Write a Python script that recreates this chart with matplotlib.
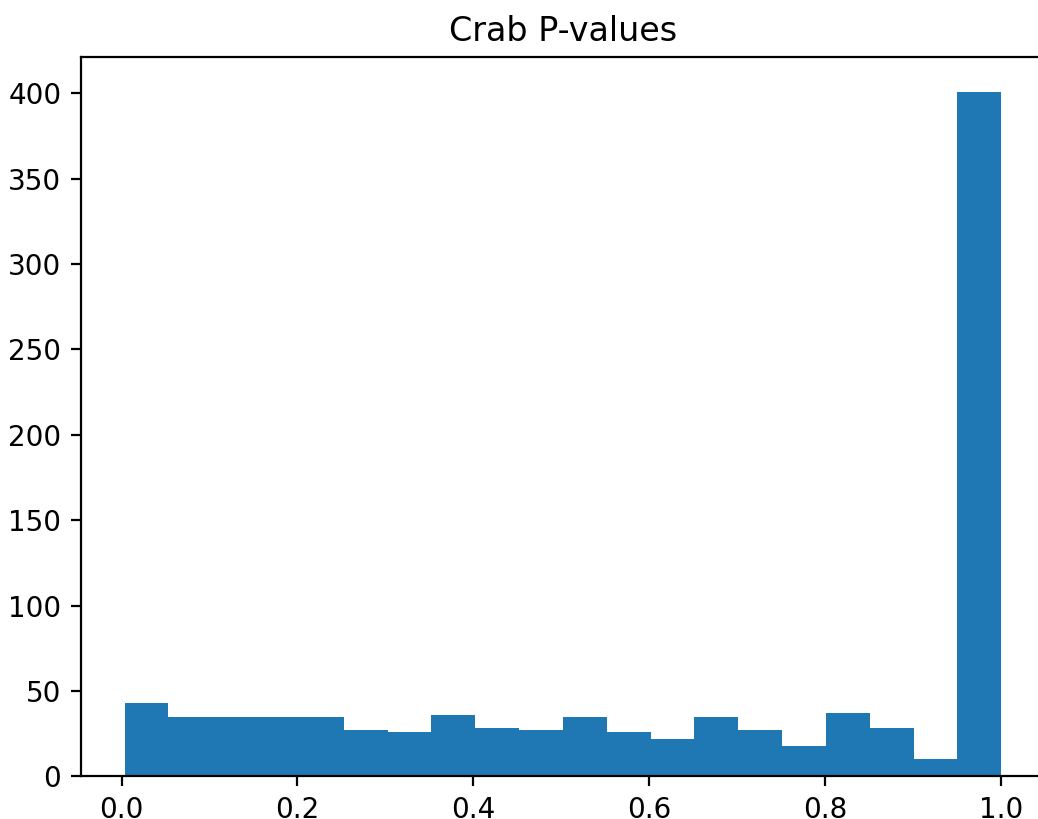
import numpy as np
import matplotlib
matplotlib.use("Agg")
import matplotlib.pyplot as plt

# Histogram of p-values: 20 equal-width bins between min and max p-value
p_min = 0.0034
p_max = 1.0
counts = [43, 35, 35, 35, 35, 27, 26, 36, 28, 27,
          35, 26, 22, 35, 27, 18, 37, 28, 10, 401]
title = "Crab P-values"

edges = np.linspace(p_min, p_max, len(counts) + 1)

W, H = 1038, 819
fig = plt.figure(figsize=(W / 200, H / 200), dpi=200)
# the reference image is cropped on the right, so the axes extends past the edge
ax = fig.add_axes([80.7 / W, 42.7 / H, (1045.0 - 80.7) / W, (776.3 - 57.3) / H])
ax.hist(edges[:-1], bins=edges, weights=counts, color="#1f77b4")
ax.set_title(title, fontsize=12)
ax.set_yticks([0, 50, 100, 150, 200, 250, 300, 350, 400])
ax.set_xticks([0.0, 0.2, 0.4, 0.6, 0.8, 1.0])
fig.savefig("out.png", dpi=200)
